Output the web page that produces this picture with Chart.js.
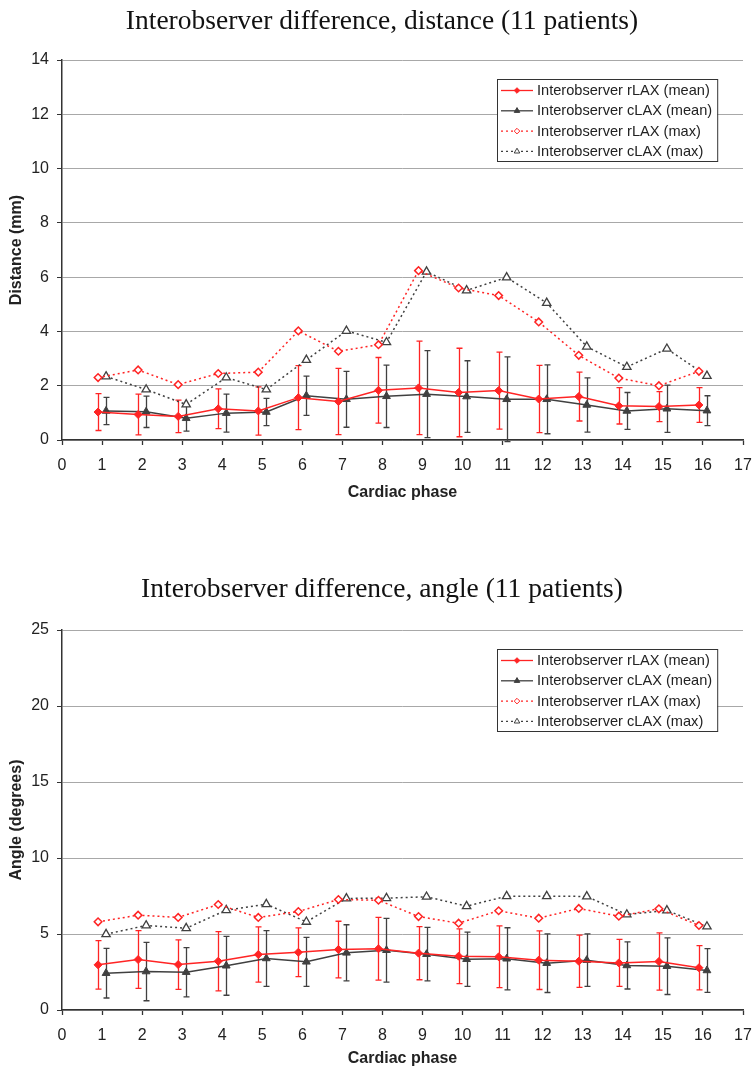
<!DOCTYPE html>
<html>
<head>
<meta charset="utf-8">
<script src="https://cdn.jsdelivr.net/npm/chart.js"></script>
<style>
  body { margin: 0; background: #fff; }
  canvas { display: block; }
</style>
</head>
<body>
<canvas id="distChart" width="754" height="570"></canvas>
<canvas id="angleChart" width="754" height="500"></canvas>
<script>
const phases = [1, 2, 3, 4, 5, 6, 7, 8, 9, 10, 11, 12, 13, 14, 15, 16];

// distance (mm)
const distRMean = [1.03, 0.94, 0.87, 1.15, 1.07, 1.56, 1.42, 1.83, 1.92, 1.75, 1.82, 1.51, 1.60, 1.26, 1.23, 1.29];
const distRSd   = [0.68, 0.75, 0.60, 0.73, 0.89, 1.18, 1.22, 1.21, 1.72, 1.63, 1.42, 1.24, 0.90, 0.67, 0.55, 0.64];
const distCMean = [1.07, 1.04, 0.80, 0.99, 1.03, 1.63, 1.50, 1.61, 1.69, 1.60, 1.50, 1.50, 1.29, 1.07, 1.15, 1.08];
const distCSd   = [0.50, 0.58, 0.47, 0.70, 0.50, 0.72, 1.03, 1.15, 1.60, 1.32, 1.56, 1.27, 1.00, 0.68, 0.87, 0.55];
const distRMax  = [2.30, 2.58, 2.04, 2.45, 2.50, 4.02, 3.27, 3.51, 6.24, 5.60, 5.32, 4.35, 3.12, 2.28, 2.00, 2.53];
const distCMax  = [2.34, 1.86, 1.31, 2.30, 1.86, 2.95, 4.02, 3.60, 6.20, 5.51, 5.99, 5.05, 3.44, 2.69, 3.36, 2.36];

// angle (degrees)
const angleRMean = [2.97, 3.32, 2.99, 3.21, 3.65, 3.80, 3.98, 4.03, 3.74, 3.54, 3.50, 3.28, 3.21, 3.10, 3.19, 2.78];
const angleRSd   = [1.60, 1.90, 1.63, 1.95, 1.82, 1.60, 1.86, 2.07, 1.75, 1.80, 2.03, 1.93, 1.72, 1.55, 1.88, 1.45];
const angleCMean = [2.42, 2.53, 2.49, 2.91, 3.39, 3.17, 3.76, 3.93, 3.67, 3.34, 3.37, 3.08, 3.28, 2.93, 2.88, 2.60];
const angleCSd   = [1.63, 1.92, 1.62, 1.94, 1.83, 1.61, 1.85, 2.10, 1.76, 1.78, 2.04, 1.93, 1.73, 1.55, 1.86, 1.44];
const angleRMax  = [5.80, 6.24, 6.09, 6.94, 6.09, 6.48, 7.27, 7.22, 6.15, 5.71, 6.53, 6.04, 6.68, 6.17, 6.66, 5.56];
const angleCMax  = [4.99, 5.56, 5.38, 6.57, 6.96, 5.80, 7.34, 7.36, 7.45, 6.83, 7.49, 7.49, 7.47, 6.28, 6.55, 5.49];

const seriesLabels = ['Interobserver rLAX (mean)', 'Interobserver cLAX (mean)', 'Interobserver rLAX (max)', 'Interobserver cLAX (max)'];

const RED = '#ff2424';
const DARK = '#404040';
const DODGE = 0.1; // rLAX drawn a bit left of the tick, cLAX a bit right

Chart.defaults.font.family = '"Liberation Sans", Arial, sans-serif';
Chart.defaults.color = '#222';

function pts(vals, shift) {
    return vals.map((v, i) => ({ x: phases[i] + shift, y: v }));
}

// vertical error bars (mean +/- sd)
const errorBarPlugin = {
    id: 'errorBars',
    beforeDatasetsDraw(chart) {
        const ctx = chart.ctx;
        const xs = chart.scales.x, ys = chart.scales.y;
        chart.data.datasets.forEach(ds => {
            if (!ds.errorBars) return;
            ctx.save();
            ctx.strokeStyle = ds.borderColor;
            ctx.lineWidth = 1.3;
            ds.data.forEach((p, i) => {
                const sd = ds.errorBars[i];
                const x = Math.round(xs.getPixelForValue(p.x)) + 0.5;
                const yTop = ys.getPixelForValue(p.y + sd);
                const yBot = ys.getPixelForValue(p.y - sd);
                ctx.beginPath();
                ctx.moveTo(x, yTop); ctx.lineTo(x, yBot);
                ctx.moveTo(x - 3, yTop); ctx.lineTo(x + 3, yTop);
                ctx.moveTo(x - 3, yBot); ctx.lineTo(x + 3, yBot);
                ctx.stroke();
            });
            ctx.restore();
        });
    }
};

function marker(ctx, style, x, y, r) {
    ctx.beginPath();
    if (style === 'rectRot') {
        ctx.moveTo(x, y - r); ctx.lineTo(x + r, y); ctx.lineTo(x, y + r); ctx.lineTo(x - r, y);
    } else {
        ctx.moveTo(x, y - r);
        ctx.lineTo(x + r * 0.866, y + r * 0.5);
        ctx.lineTo(x - r * 0.866, y + r * 0.5);
    }
    ctx.closePath();
}

// boxed legend inside the plot, like the original
const boxLegendPlugin = {
    id: 'boxLegend',
    afterDraw(chart) {
        const ctx = chart.ctx;
        const area = chart.chartArea;
        ctx.save();
        ctx.font = '14.6px "Liberation Sans", Arial, sans-serif';
        const maxW = Math.max(...chart.data.datasets.map(d => ctx.measureText(d.label).width));
        const w = 40 + maxW + 5;
        const h = 82;
        const left = Math.round(area.right - 26 - w);
        const top = Math.round(area.top + 19);
        ctx.fillStyle = '#fff';
        ctx.fillRect(left, top, w, h);
        ctx.strokeStyle = '#333';
        ctx.lineWidth = 1;
        ctx.strokeRect(left + 0.5, top + 0.5, w, h);
        chart.data.datasets.forEach((ds, i) => {
            const y = top + 11.5 + i * 20.3;
            ctx.strokeStyle = ds.borderColor;
            ctx.lineWidth = 1.3;
            ctx.setLineDash(ds.borderDash || []);
            ctx.beginPath();
            ctx.moveTo(left + 4, y); ctx.lineTo(left + 36, y);
            ctx.stroke();
            ctx.setLineDash([]);
            marker(ctx, ds.pointStyle, left + 20, y, ds.pointStyle === 'rectRot' ? 2.8 : 3.2);
            ctx.fillStyle = ds.pointBackgroundColor;
            ctx.fill();
            ctx.lineWidth = 1;
            ctx.stroke();
            ctx.fillStyle = '#222';
            ctx.textBaseline = 'middle';
            ctx.fillText(ds.label, left + 40, y + 0.5);
        });
        ctx.restore();
    }
};

function makeChart(id, title, yTitle, yMax, yStep, rMean, rSd, cMean, cSd, rMax, cMax, pad) {
    return new Chart(document.getElementById(id), {
        type: 'line',
        data: {
            datasets: [
                {
                    label: seriesLabels[0],
                    data: pts(rMean, -DODGE),
                    errorBars: rSd,
                    borderColor: RED,
                    backgroundColor: RED,
                    pointBackgroundColor: RED,
                    borderWidth: 1.5,
                    pointStyle: 'rectRot',
                    pointRadius: 4,
                    pointBorderWidth: 1
                },
                {
                    label: seriesLabels[1],
                    data: pts(cMean, DODGE),
                    errorBars: cSd,
                    borderColor: DARK,
                    backgroundColor: DARK,
                    pointBackgroundColor: DARK,
                    borderWidth: 1.5,
                    pointStyle: 'triangle',
                    pointRadius: 4.5,
                    pointBorderWidth: 1
                },
                {
                    label: seriesLabels[2],
                    data: pts(rMax, -DODGE),
                    borderColor: RED,
                    backgroundColor: '#fff',
                    pointBackgroundColor: '#fff',
                    borderWidth: 1.5,
                    borderDash: [2, 3],
                    pointStyle: 'rectRot',
                    pointRadius: 3.8,
                    pointBorderWidth: 1.5
                },
                {
                    label: seriesLabels[3],
                    data: pts(cMax, DODGE),
                    borderColor: DARK,
                    backgroundColor: '#fff',
                    pointBackgroundColor: '#fff',
                    borderWidth: 1.5,
                    borderDash: [2, 3],
                    pointStyle: 'triangle',
                    pointRadius: 4.8,
                    pointBorderWidth: 1.3
                }
            ]
        },
        options: {
            responsive: false,
            animation: false,
            layout: { padding: { left: 21, right: 11, top: 0, bottom: pad.bottom } },
            plugins: {
                legend: { display: false },
                tooltip: { enabled: false },
                title: {
                    display: true,
                    text: title,
                    color: '#111',
                    font: { family: '"Liberation Serif", "Times New Roman", serif', size: 27.5, weight: 'normal' },
                    padding: { top: pad.titleTop, bottom: 60 - pad.titleTop - 33 }
                }
            },
            scales: {
                x: {
                    type: 'linear',
                    min: 0,
                    max: 17,
                    afterFit: s => { s.height = pad.xHeight; s.paddingLeft = 0; s.paddingRight = 0; },
                    ticks: { stepSize: 1, font: { size: 16 }, padding: 11, color: '#222' },
                    grid: { drawOnChartArea: false, tickLength: 5, tickColor: '#333', tickWidth: 1.3 },
                    border: { color: '#333', width: 1.5 },
                    title: { display: true, text: 'Cardiac phase', font: { size: 16, weight: 'bold' }, color: '#222', padding: { top: 4, bottom: 2 } }
                },
                y: {
                    min: 0,
                    max: yMax,
                    afterFit: s => { s.width = 41; },
                    ticks: { stepSize: yStep, font: { size: 16 }, padding: 8, color: '#222' },
                    grid: { color: '#a8a8a8', lineWidth: 1, tickLength: 5, tickColor: '#333' },
                    border: { color: '#333', width: 1.5 },
                    title: { display: true, text: yTitle, font: { size: 16, weight: 'bold' }, color: '#222', padding: { top: -14, bottom: 0 } }
                }
            }
        },
        plugins: [errorBarPlugin, boxLegendPlugin]
    });
}

makeChart('distChart', 'Interobserver difference, distance (11 patients)', 'Distance (mm)', 14, 2,
    distRMean, distRSd, distCMean, distCSd, distRMax, distCMax,
    { bottom: 66, xHeight: 64, titleTop: 5 });

makeChart('angleChart', 'Interobserver difference, angle (11 patients)', 'Angle (degrees)', 25, 5,
    angleRMean, angleRSd, angleCMean, angleCSd, angleRMax, angleCMax,
    { bottom: 0, xHeight: 60, titleTop: 3 });
</script>
</body>
</html>
